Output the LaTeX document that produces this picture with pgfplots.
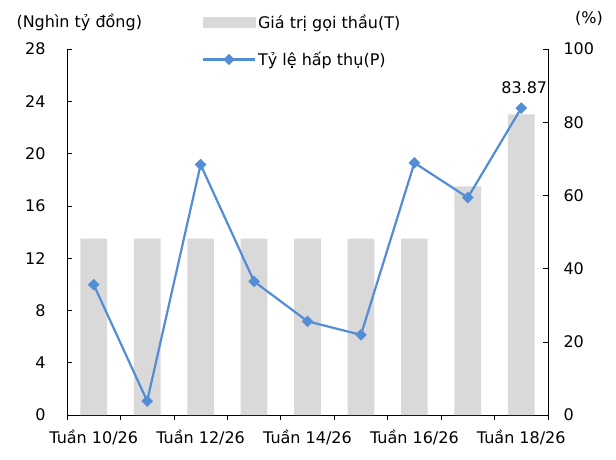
\documentclass[border=0pt]{standalone}
\usepackage{fontspec}
\setmainfont{DejaVu Sans}
\usepackage{pgfplots}
\pgfplotsset{compat=1.18}
\definecolor{barg}{RGB}{217,217,217}
\definecolor{lineb}{RGB}{83,141,213}

\pgfplotsset{
  base/.style={
    at={(67pt,44pt)}, anchor=south west,
    width=481pt, height=366pt, scale only axis,
    xmin=-0.5, xmax=8.5,
    tick align=inside, major tick length=5pt, minor tick length=5pt,
    every tick/.style={black, line width=0.6pt},
    axis line style={black, line width=0.8pt},
    tick label style={font=\fontsize{16}{19}\selectfont},
    /pgf/number format/assume math mode=true,
    clip=false,
  }
}

\begin{document}
\begin{tikzpicture}[font=\fontsize{16}{19}\selectfont]
\path[use as bounding box] (0,0) rectangle (616pt,459pt);

% bars: left axis
\begin{axis}[base,
  ymin=0, ymax=28, ytick={0,4,...,28},
  axis x line*=bottom, axis y line*=left,
  xtick={0,2,4,6,8},
  xticklabels={Tuần 10/26,Tuần 12/26,Tuần 14/26,Tuần 16/26,Tuần 18/26},
  major x tick style={draw=none},
  minor xtick={-0.5,0.5,...,8.5},
  xticklabel style={yshift=-6pt},
  yticklabel style={xshift=-18pt},
  ybar, bar width=26.7pt,
]
\addplot[fill=barg, draw=none] coordinates {
  (0,13.5) (1,13.5) (2,13.5) (3,13.5) (4,13.5) (5,13.5) (6,13.5) (7,17.5) (8,23)};
\end{axis}

% line: right axis
\begin{axis}[base,
  ymin=0, ymax=100, ytick={0,20,...,100},
  axis y line*=right, axis x line=none,
  yticklabel style={xshift=12pt},
  legend style={at={(0.28,1.099)}, anchor=north west, draw=none, fill=none,
    inner sep=0pt, row sep=18pt, font=\fontsize{16}{19}\selectfont,
    nodes={inner sep=2pt}},
  legend cell align=left,
]
\addlegendimage{legend image code/.code={\fill[barg] (0pt,-5pt) rectangle (52pt,5pt);}}
\addlegendentry{Giá trị gọi thầu(T)}
\addplot[lineb, line width=2.2pt, mark=square*, mark options={rotate=45}, mark size=3pt,
  nodes near coords, point meta=explicit symbolic,
  every node near coord/.style={black, font=\fontsize{16}{19}\selectfont, yshift=10pt, xshift=3pt},
  legend image code/.code={
    \draw[lineb, line width=2.2pt] (0pt,0pt) -- (52pt,0pt);
    \fill[lineb] (22pt,0pt) -- (26pt,4pt) -- (30pt,0pt) -- (26pt,-4pt) -- cycle;}]
  coordinates {
  (0,35.6)[] (1,3.8)[] (2,68.4)[] (3,36.5)[] (4,25.6)[] (5,21.9)[] (6,68.9)[] (7,59.4)[] (8,83.87)[83.87]};
\addlegendentry{Tỷ lệ hấp thụ(P)}
\end{axis}

\node[anchor=west] at (13pt,437pt) {(Nghìn tỷ đồng)};
\node at (589pt,441pt) {(\%)};
\end{tikzpicture}
\end{document}
